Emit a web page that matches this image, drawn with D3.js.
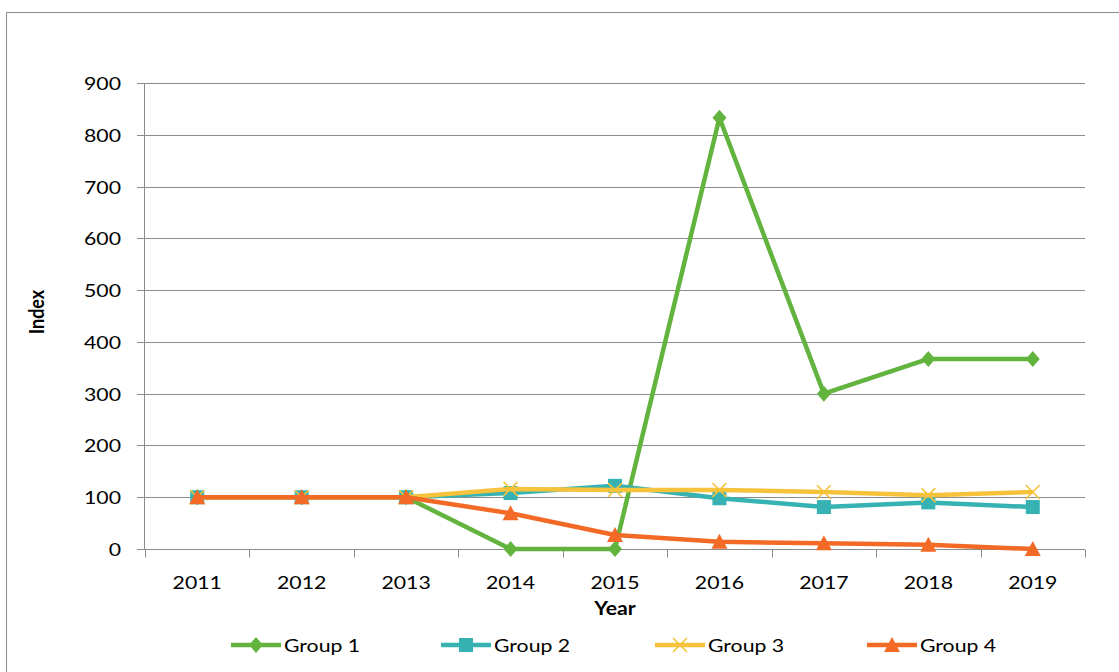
<!DOCTYPE html>
<html lang="en">
<head>
<meta charset="utf-8">
<title>Index by Year</title>
<style>
  body { margin: 0; background: #fff; }
  svg { display: block; font-family: Lato, Carlito, "Liberation Sans", sans-serif; }
  text { font-size: 18px; fill: #000; }
  .axis-title { font-weight: bold; }
</style>
</head>
<body>
<svg width="1119" height="672"></svg>
<script src="https://d3js.org/d3.v7.min.js"></script>
<script>
  const years = ["2011", "2012", "2013", "2014", "2015", "2016", "2017", "2018", "2019"];
  const group1 = [100, 100, 100, 0, 0, 833, 300, 367, 367];
  const group2 = [100, 100, 100, 108, 122, 98, 81, 90, 81];
  const group3 = [100, 100, 100, 116, 114, 114, 110, 104, 110];
  const group4 = [100, 100, 100, 69, 27, 14, 11, 8, 0];
  const seriesNames = ["Group 1", "Group 2", "Group 3", "Group 4"];
  const yTicks = [0, 100, 200, 300, 400, 500, 600, 700, 800, 900];

  const colors = ["#62b43f", "#35b2b1", "#f7c23c", "#f26a26"];
  const symbols = ["diamond", "square", "cross", "triangle"];
  const series = [group1, group2, group3, group4].map((v, i) => ({
    name: seriesNames[i], values: v, color: colors[i], symbol: symbols[i]
  }));

  // the reference text is a bit wide, so stretch it sideways
  const stretch = 1.18;

  const svg = d3.select("svg");
  const margin = {top: 83, right: 34, bottom: 123, left: 145};
  const width = 1119 - margin.left - margin.right;
  const height = 672 - margin.top - margin.bottom;
  const axisColor = "#8c8c8c";

  function label(parent, px, py, str, anchor) {
    return parent.append("text")
      .attr("transform", `translate(${px},${py}) scale(${stretch},1)`)
      .attr("text-anchor", anchor || "start")
      .text(str);
  }

  // chart frame
  svg.append("rect")
    .attr("x", 6.5).attr("y", 12.5)
    .attr("width", 1130).attr("height", 700)
    .attr("fill", "none").attr("stroke", axisColor);

  const vis = svg.append("g")
    .attr("transform", `translate(${margin.left},${margin.top})`);

  const x = d3.scaleBand().domain(years).range([0, width]);
  const y = d3.scaleLinear().domain([0, 900]).range([height, 0]);
  const py = d => Math.round(y(d)) + 0.5;

  // grid lines
  vis.append("g")
    .selectAll("line")
    .data(yTicks.filter(d => d > 0))
    .join("line")
    .attr("x1", 0).attr("x2", width)
    .attr("y1", py).attr("y2", py)
    .attr("stroke", axisColor);

  // y axis
  const yg = vis.append("g");
  yg.append("line").attr("x1", -0.5).attr("x2", -0.5).attr("y1", 0).attr("y2", height).attr("stroke", axisColor);
  yTicks.forEach(t => {
    yg.append("line").attr("x1", -8).attr("x2", 0).attr("y1", py(t)).attr("y2", py(t)).attr("stroke", axisColor);
    label(yg, -24, py(t) + 6.5, d3.format("d")(t), "end");
  });

  // x axis, ticks between categories
  const xg = vis.append("g").attr("transform", `translate(0,${Math.round(height) + 0.5})`);
  xg.append("line").attr("x1", 0).attr("x2", width).attr("stroke", axisColor);
  xg.selectAll("line.sep")
    .data(d3.range(years.length + 1))
    .join("line")
    .attr("class", "sep")
    .attr("x1", i => Math.round(i * x.step()) + 0.5)
    .attr("x2", i => Math.round(i * x.step()) + 0.5)
    .attr("y1", 0).attr("y2", 8)
    .attr("stroke", axisColor);
  years.forEach(yr => label(xg, x(yr) + x.bandwidth() / 2, 39, yr, "middle"));

  // axis titles
  label(vis, width / 2, height + 66, "Year", "middle").attr("class", "axis-title");
  svg.append("text")
    .attr("class", "axis-title")
    .attr("transform", `translate(44,312) rotate(-90) scale(1,${stretch})`)
    .attr("text-anchor", "middle")
    .text("Index");

  const line = d3.line()
    .x((d, i) => x(years[i]) + x.bandwidth() / 2)
    .y(d => y(d));

  function marker(g, s, cx, cy) {
    if (s.symbol === "diamond") {
      g.append("path").attr("d", `M${cx},${cy - 8}L${cx + 7},${cy}L${cx},${cy + 8}L${cx - 7},${cy}Z`).attr("fill", s.color);
    } else if (s.symbol === "square") {
      g.append("rect").attr("x", cx - 7).attr("y", cy - 7).attr("width", 14).attr("height", 14).attr("fill", s.color);
    } else if (s.symbol === "triangle") {
      g.append("path").attr("d", `M${cx},${cy - 8}L${cx + 8},${cy + 7}L${cx - 8},${cy + 7}Z`).attr("fill", s.color);
    } else {
      g.append("path").attr("d", `M${cx - 7},${cy - 7}L${cx + 7},${cy + 7}M${cx - 7},${cy + 7}L${cx + 7},${cy - 7}`)
        .attr("stroke", s.color).attr("stroke-width", 1.6);
    }
  }

  series.forEach(s => {
    const g = vis.append("g");
    g.append("path")
      .datum(s.values)
      .attr("d", line)
      .attr("fill", "none")
      .attr("stroke", s.color)
      .attr("stroke-width", 4.5)
      .attr("stroke-linejoin", "round");
    s.values.forEach((v, i) => marker(g, s, x(years[i]) + x.bandwidth() / 2, y(v)));
  });

  // legend
  const legendX = [231, 441, 655, 867];
  const legend = svg.append("g");
  series.forEach((s, i) => {
    const g = legend.append("g");
    const ly = 645;
    g.append("line")
      .attr("x1", legendX[i]).attr("x2", legendX[i] + 50)
      .attr("y1", ly).attr("y2", ly)
      .attr("stroke", s.color).attr("stroke-width", 4.5);
    marker(g, s, legendX[i] + 25, ly);
    label(g, legendX[i] + 53, ly + 7, s.name);
  });
</script>
</body>
</html>
